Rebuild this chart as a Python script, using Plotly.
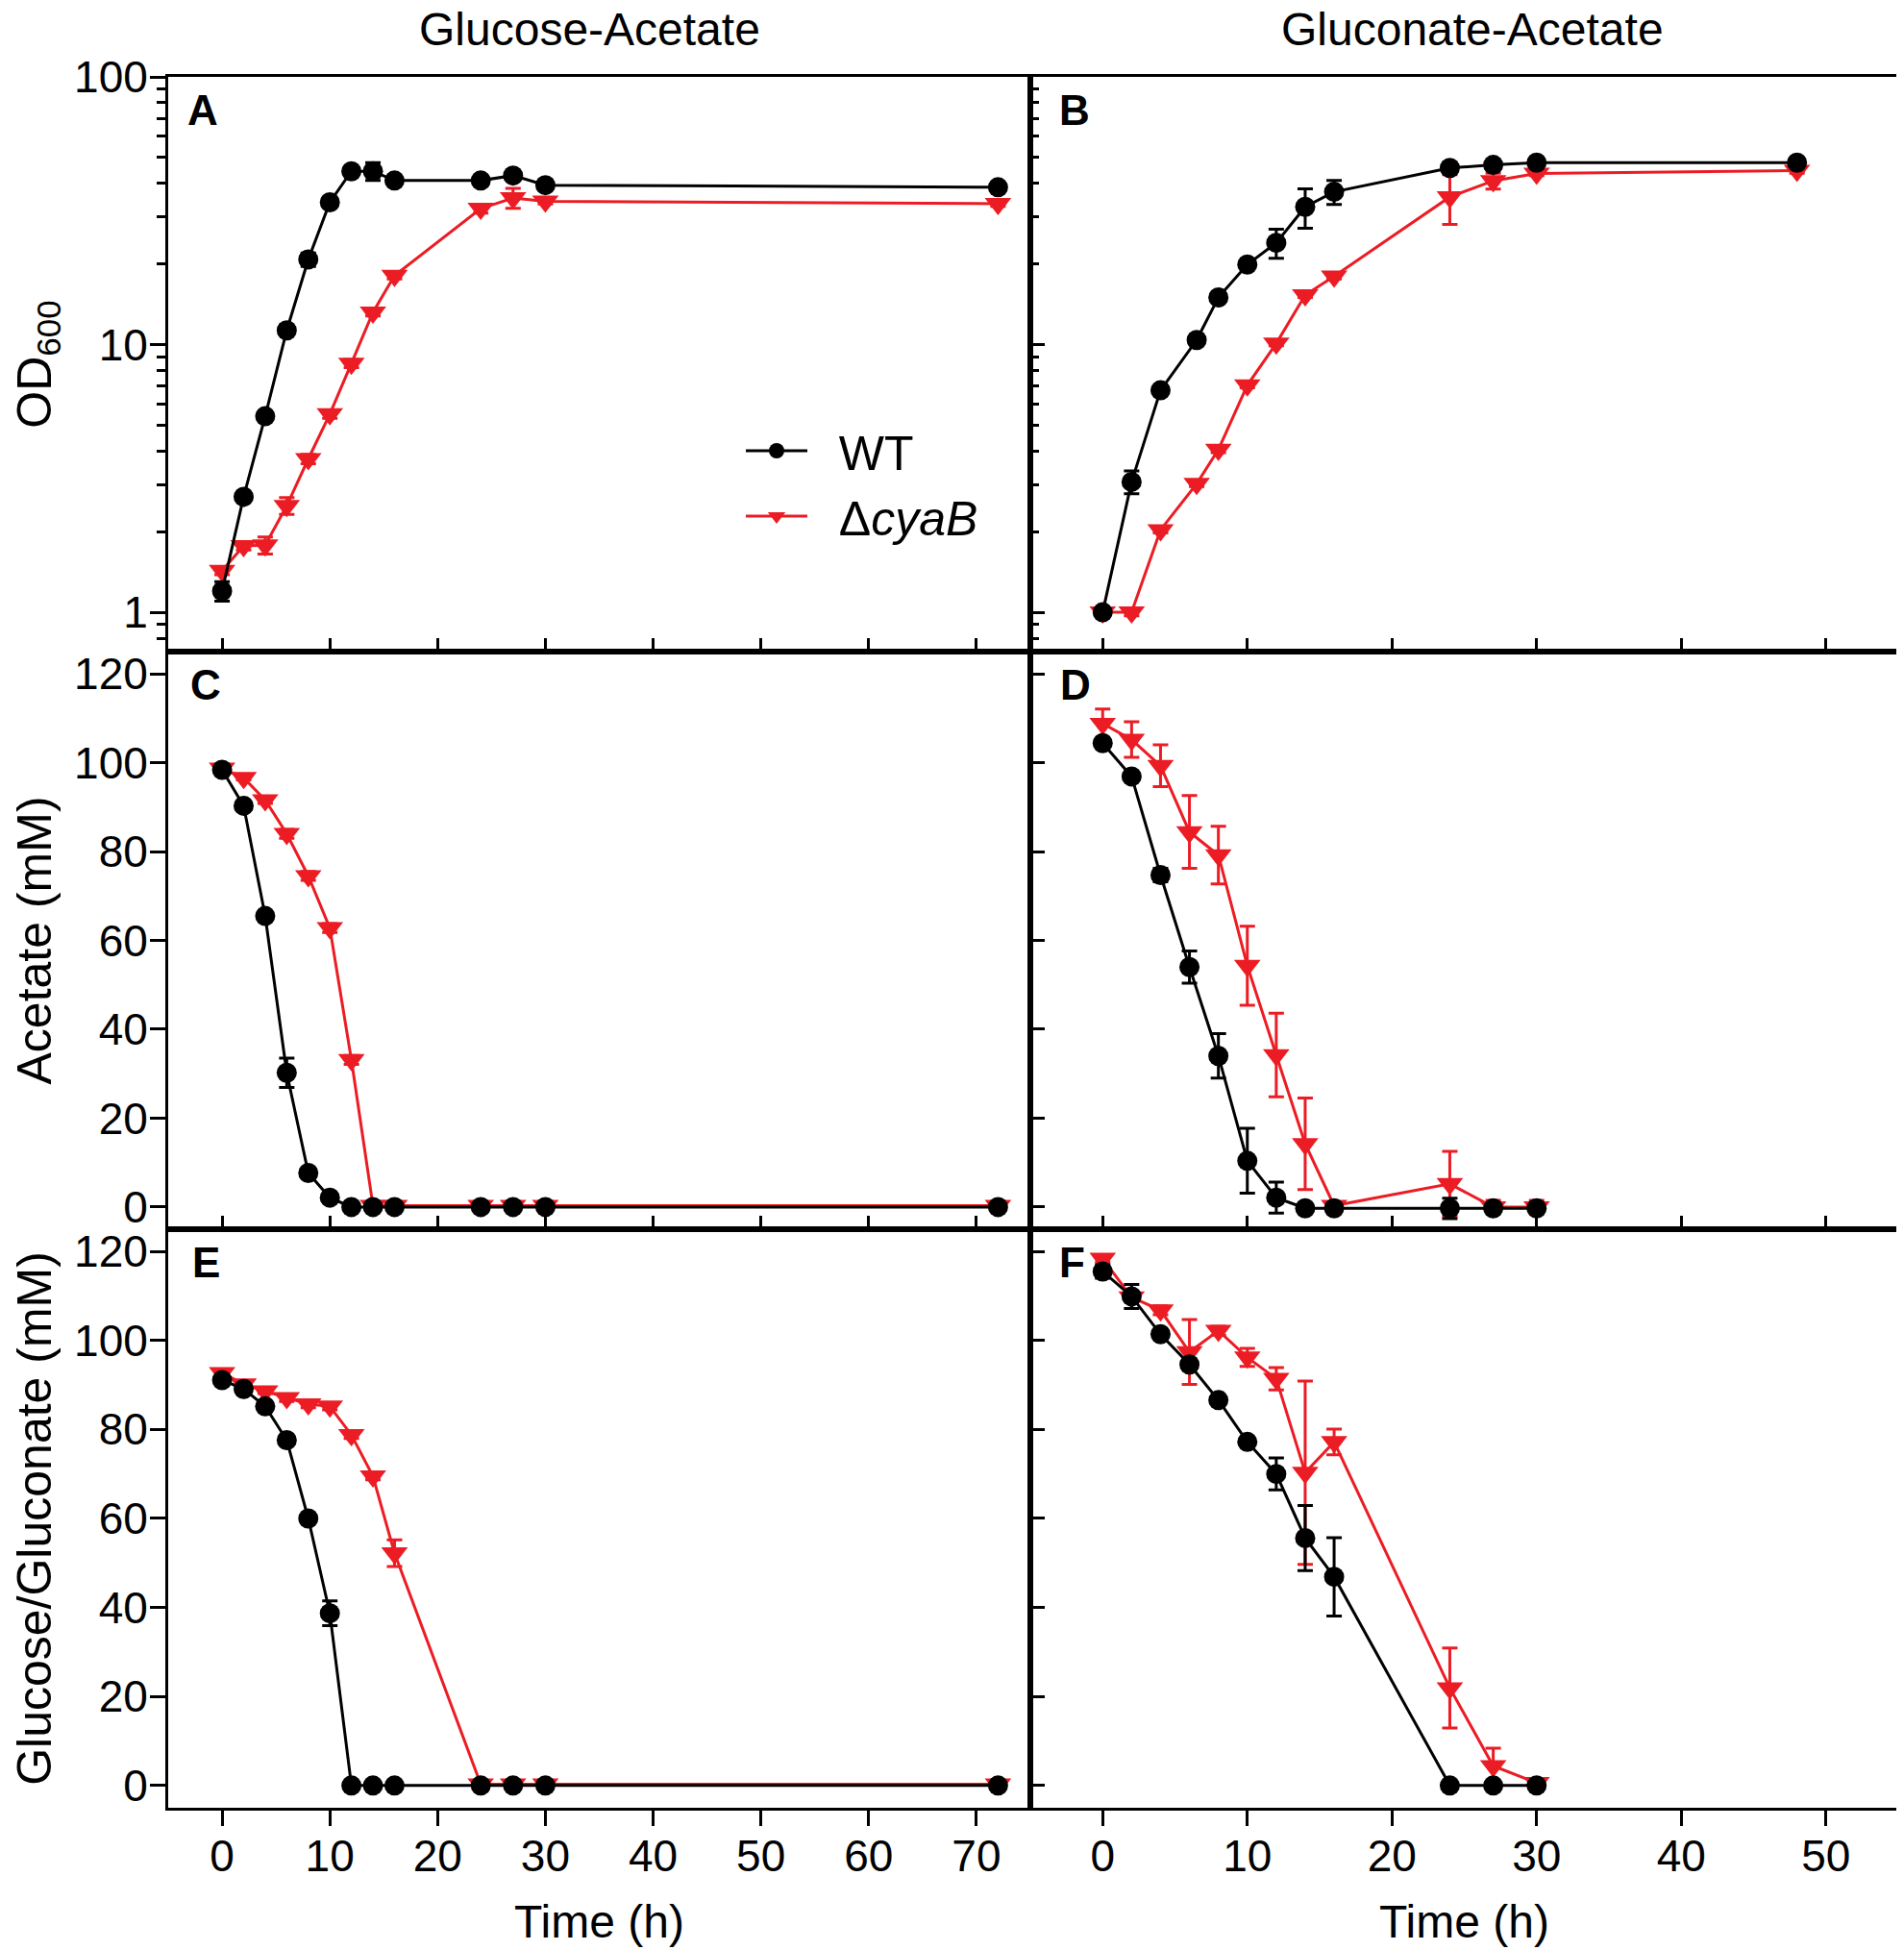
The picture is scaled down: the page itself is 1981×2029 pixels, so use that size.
import plotly.graph_objects as go
from plotly.subplots import make_subplots

# ---- data ----
# panel A: OD600, glucose-acetate
t_a = [0, 2, 4, 6, 8, 10, 12, 14, 16, 24, 27, 30, 72]
wt_a = [1.2, 2.7, 5.4, 11.3, 20.8, 34, 44.4, 44.4, 41, 41, 42.8, 39.4, 38.7]
wt_a_err = [0.1, 0.05, 0.1, 0.3, 1.2, 0.5, 1.5, 3.4, 0.8, 0.5, 0.8, 0.6, 0.8]
ko_a = [1.43, 1.77, 1.78, 2.5, 3.74, 5.5, 8.5, 13.2, 18.1, 32.2, 35.3, 34.3, 33.6]
ko_a_err = [0.05, 0.06, 0.13, 0.18, 0.15, 0.2, 0.3, 0.4, 0.5, 1.2, 3.0, 0.8, 0.8]

# panel B: OD600, gluconate-acetate
t_b = [0, 2, 4, 6.5, 8, 10, 12, 14, 16, 24, 27, 30, 48]
wt_b = [1.0, 3.07, 6.75, 10.4, 15.0, 19.9, 24.0, 32.7, 37.2, 45.7, 46.9, 47.8, 47.8]
wt_b_err = [0.03, 0.3, 0.2, 0.3, 0.4, 0.5, 3.0, 5.5, 3.8, 1.0, 1.0, 1.0, 1.0]
ko_b = [1.0, 1.0, 2.03, 3.02, 4.05, 7.05, 10.1, 15.3, 18.0, 35.6, 40.9, 43.6, 44.7]
ko_b_err = [0.03, 0.03, 0.05, 0.07, 0.1, 0.15, 0.2, 0.3, 0.4, 7.5, 2.8, 0.8, 1.0]

# panel C: acetate, glucose-acetate
t_c = [0, 2, 4, 6, 8, 10, 12, 14, 16, 24, 27, 30, 72]
wt_c = [98.4, 90.3, 65.5, 30.2, 7.65, 2.1, 0, 0, 0, 0, 0, 0, 0]
wt_c_err = [0.8, 0.8, 0.8, 3.3, 0.5, 0.3, 0, 0, 0, 0, 0, 0, 0]
ko_c = [98.7, 96.6, 91.6, 84.0, 74.5, 62.8, 33.1, 0.3, 0.3, 0.3, 0.3, 0.3, 0.3]
ko_c_err = [0.5, 0.5, 0.8, 1.0, 1.0, 1.0, 1.0, 0, 0, 0, 0, 0, 0]

# panel D: acetate, gluconate-acetate
t_d = [0, 2, 4, 6, 8, 10, 12, 14, 16, 24, 27, 30]
wt_d = [104.4, 96.9, 74.7, 54.0, 34.0, 10.4, 2.1, -0.3, -0.3, -0.3, -0.3, -0.3]
wt_d_err = [0.8, 0.8, 1.5, 3.6, 5.0, 7.3, 3.5, 0.3, 0.3, 2.3, 0.5, 0.5]
ko_d = [108.8, 105.2, 99.3, 84.4, 79.2, 54.3, 34.2, 14.2, 0.3, 5.2, 0.0, 0.0]
ko_d_err = [3.3, 4.0, 4.7, 8.2, 6.5, 8.9, 9.4, 10.3, 0.5, 7.3, 1.5, 1.5]

# panel E: glucose, glucose-acetate
t_e = [0, 2, 4, 6, 8, 10, 12, 14, 16, 24, 27, 30, 72]
wt_e = [91.1, 89.1, 85.2, 77.6, 60.0, 38.7, 0, 0, 0, 0, 0, 0, 0]
wt_e_err = [0.8, 0.8, 0.8, 0.8, 0.8, 2.8, 0, 0, 0, 0, 0, 0, 0]
ko_e = [92.7, 90.2, 88.6, 87.1, 85.7, 85.2, 78.8, 69.5, 52.2, 0.3, 0.3, 0.3, 0.3]
ko_e_err = [0.5, 0.5, 0.5, 0.8, 0.8, 0.8, 0.8, 0.8, 3.0, 0.3, 0.3, 0.3, 0.3]

# panel F: gluconate, gluconate-acetate
t_f = [0, 2, 4, 6, 8, 10, 12, 14, 16, 24, 27, 30]
wt_f = [115.5, 109.9, 101.4, 94.6, 86.6, 77.2, 70.0, 55.6, 46.9, 0, 0, 0]
wt_f_err = [1.5, 2.7, 0.8, 1.0, 0.8, 0.8, 3.6, 7.3, 8.8, 0, 0, 0]
ko_f = [118.4, 109.7, 106.8, 97.4, 102.2, 96.2, 91.4, 70.3, 77.2, 21.9, 4.4, 0.6]
ko_f_err = [0.8, 1.0, 1.0, 7.3, 1.0, 2.0, 2.5, 20.6, 2.9, 9.0, 4.0, 1.0]

col_titles = ["Glucose-Acetate", "Gluconate-Acetate"]
panel_letters = ["A", "B", "C", "D", "E", "F"]

FONT = "Liberation Sans, Arial, sans-serif"
RED = "#ec1c24"
BLACK = "#000000"
GAP = "\u00a0\u00a0"  # a little room between legend symbol and label

panels = [
    (1, 1, t_a, wt_a, wt_a_err, ko_a, ko_a_err),
    (1, 2, t_b, wt_b, wt_b_err, ko_b, ko_b_err),
    (2, 1, t_c, wt_c, wt_c_err, ko_c, ko_c_err),
    (2, 2, t_d, wt_d, wt_d_err, ko_d, ko_d_err),
    (3, 1, t_e, wt_e, wt_e_err, ko_e, ko_e_err),
    (3, 2, t_f, wt_f, wt_f_err, ko_f, ko_f_err),
]

fig = make_subplots(rows=3, cols=2, horizontal_spacing=0, vertical_spacing=0)

for i, (r, c, t, wt, wt_err, ko, ko_err) in enumerate(panels):
    first = i == 0
    # mutant first so WT markers sit on top
    fig.add_trace(go.Scatter(
        x=t, y=ko, mode="lines+markers", name=GAP + "\u0394<i>cyaB</i>",
        line=dict(color=RED, width=3),
        marker=dict(symbol="triangle-down", size=24, color=RED),
        error_y=dict(type="data", array=ko_err, color=RED, thickness=3, width=8),
        showlegend=first, legendrank=2,
    ), row=r, col=c)
    fig.add_trace(go.Scatter(
        x=t, y=wt, mode="lines+markers", name=GAP + "WT",
        line=dict(color=BLACK, width=3),
        marker=dict(symbol="circle", size=21, color=BLACK),
        error_y=dict(type="data", array=wt_err, color=BLACK, thickness=3, width=8),
        showlegend=first, legendrank=1,
    ), row=r, col=c)

# ---- axes ----
x_split = 900 / 1806
y_rows = [(0.66796, 1.0), (0.33426, 0.66796), (0.0, 0.33426)]
log_minor = [0.8, 0.9, 2, 3, 4, 5, 6, 7, 8, 9, 20, 30, 40, 50, 60, 70, 80, 90]

axis_common = dict(showline=True, linewidth=3, linecolor=BLACK, mirror=True,
                   showgrid=False, zeroline=False, tickcolor=BLACK, tickwidth=3,
                   tickfont=dict(family=FONT, size=46, color=BLACK))

for r in range(1, 4):
    for c in range(1, 3):
        bottom = r == 3
        xargs = dict(
            domain=[0, x_split] if c == 1 else [x_split, 1],
            range=[-5, 75] if c == 1 else [-5, 55],
            tick0=0, dtick=10,
            ticks="outside" if bottom else "inside",
            ticklen=16 if bottom else 14,
            showticklabels=bottom,
        )
        if bottom:
            xargs.update(title=dict(text="Time (h)",
                                    font=dict(family=FONT, size=48, color=BLACK),
                                    standoff=27),
                         ticklabelstandoff=-8)
        fig.update_xaxes(**xargs, **axis_common, row=r, col=c)
        yargs = dict(domain=list(y_rows[r - 1]),
                     ticks="outside" if c == 1 else "inside",
                     ticklen=16 if c == 1 else 15,
                     showticklabels=c == 1)
        if c == 1:
            yargs.update(ticklabelstandoff=-7)
        if r == 1:
            yargs.update(type="log", range=[-0.147, 2],
                         tickvals=[1, 10, 100], ticktext=["1", "10", "100"],
                         minor=dict(tickmode="array", tickvals=log_minor,
                                    ticks="outside" if c == 1 else "inside",
                                    ticklen=9, tickwidth=3, tickcolor=BLACK))
        else:
            yargs.update(range=[-5, 125], tick0=0, dtick=20)
        fig.update_yaxes(**yargs, **axis_common, row=r, col=c)

y_titles = ["OD<sub>600</sub>", "Acetate (mM)", "Glucose/Gluconate (mM)"]
for r, txt in enumerate(y_titles, start=1):
    fig.update_yaxes(title=dict(text=txt, font=dict(family=FONT, size=50, color=BLACK),
                                standoff=23), row=r, col=1)

# ---- panel letters and column titles ----
letter_dx = [18, 28, 21, 29, 23, 28]
axis_ids = ["", "2", "3", "4", "5", "6"]
for letter, dx, ax in zip(panel_letters, letter_dx, axis_ids):
    w = 900 if ax in ("", "3", "5") else 906
    fig.add_annotation(text="<b>%s</b>" % letter, xref="x%s domain" % ax,
                       yref="y%s domain" % ax, x=dx / w, y=1 - 8 / 600,
                       xanchor="left", yanchor="top", showarrow=False,
                       font=dict(family=FONT, size=44, color=BLACK))

for txt, xc in zip(col_titles, [(612 - 172) / 1806, (1534 - 172) / 1806]):
    fig.add_annotation(text=txt, xref="paper", yref="paper", x=xc, y=1 + 50 / 1801,
                       xanchor="center", yanchor="middle", showarrow=False,
                       font=dict(family=FONT, size=48, color=BLACK))

# the page body adds an 8 px offset, so the margins are shifted to compensate
fig.update_layout(
    width=1981, height=2029,
    margin=dict(l=164, r=11, t=72, b=156),
    plot_bgcolor="white", paper_bgcolor="white",
    font=dict(family=FONT, color=BLACK),
    legend=dict(x=(770 - 172) / 1806, y=1 - (430 - 80) / 1801,
                xanchor="left", yanchor="top", bgcolor="rgba(0,0,0,0)",
                font=dict(family=FONT, size=50, color=BLACK),
                itemwidth=64, tracegroupgap=0),
)

fig.write_html("out.html")
